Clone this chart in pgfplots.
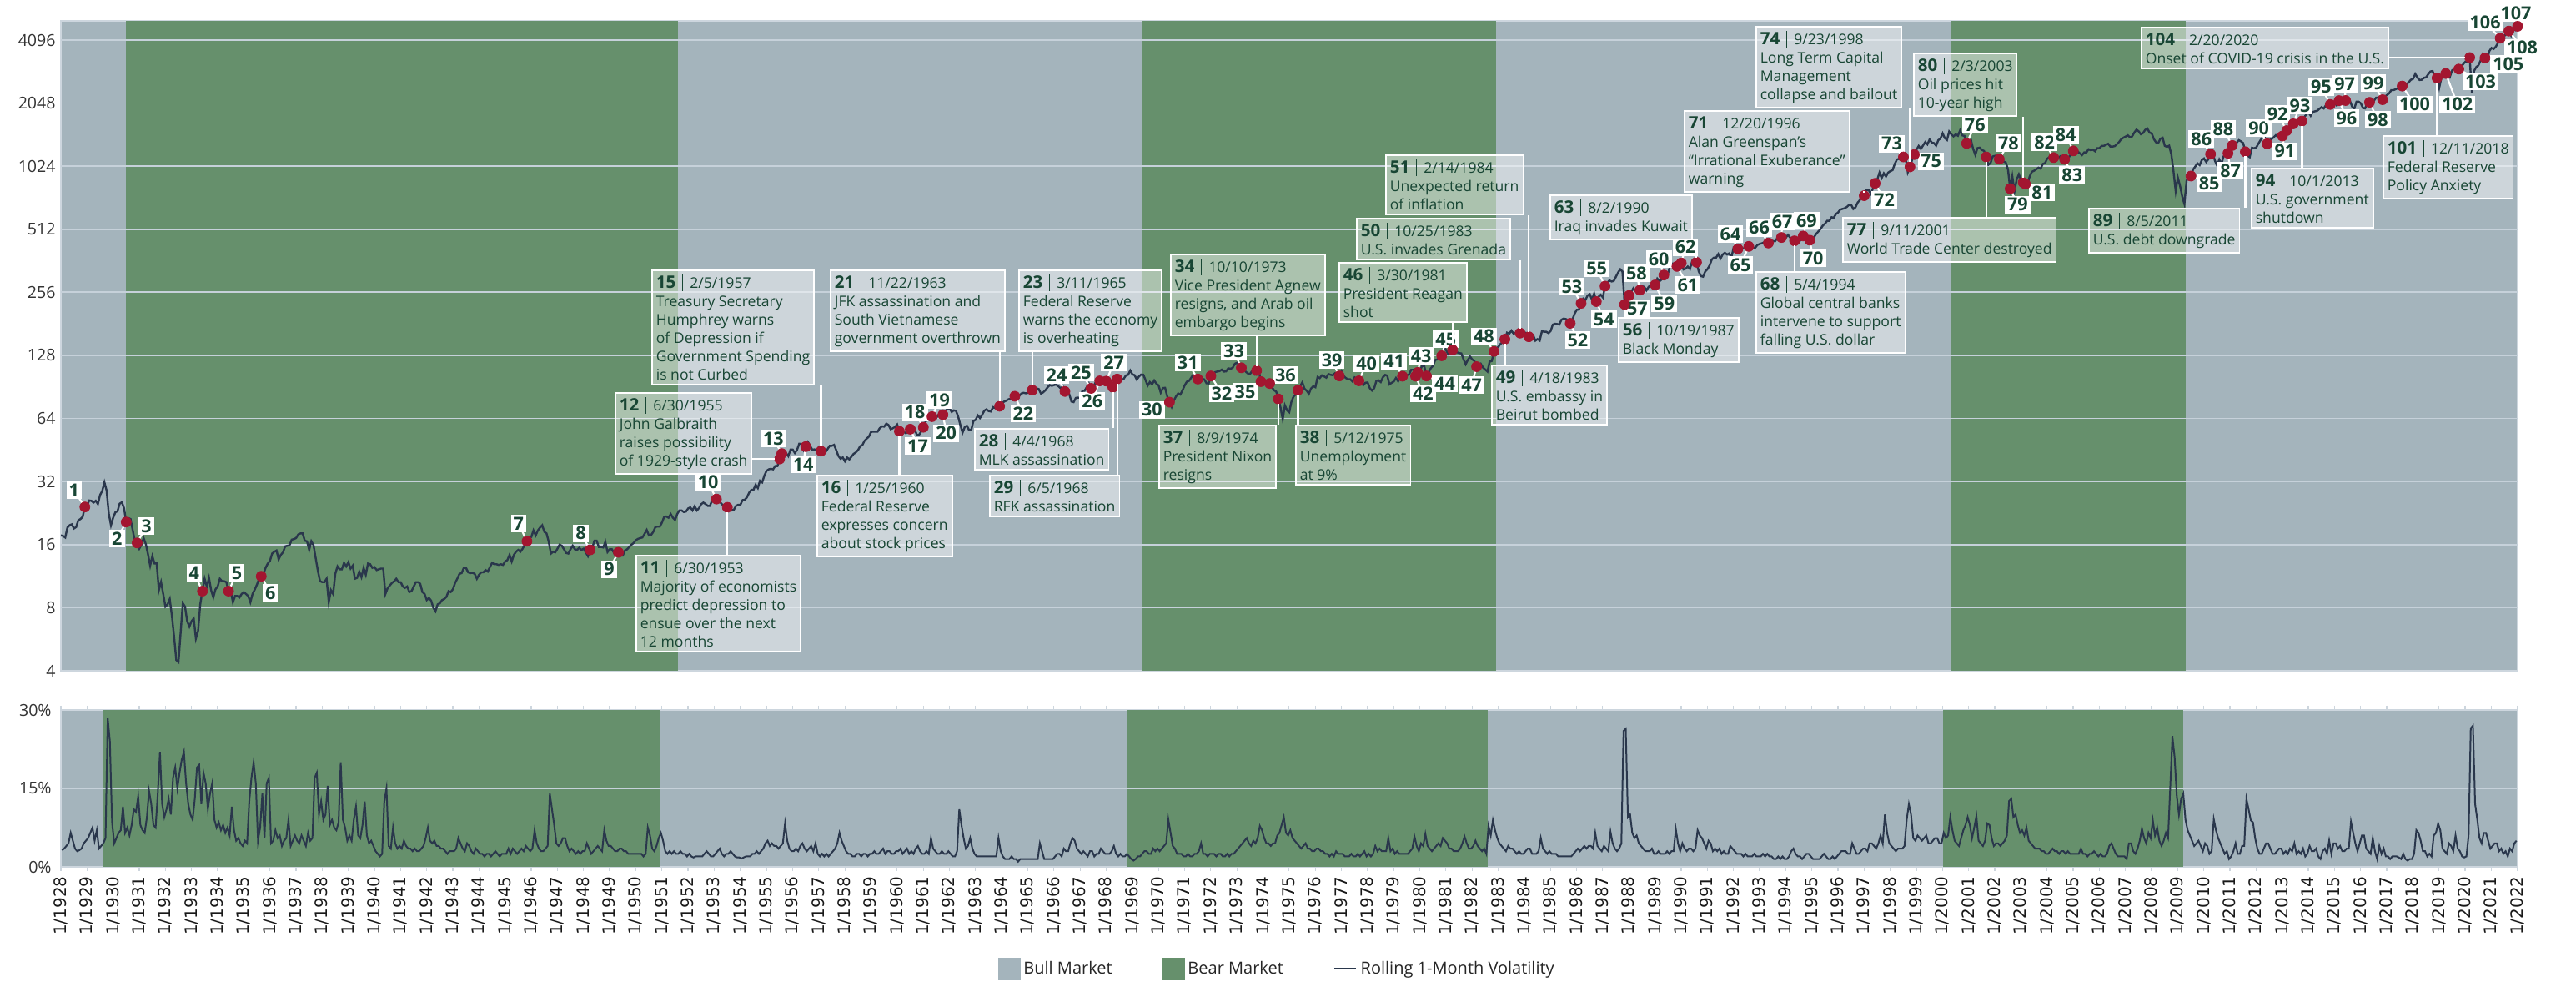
\documentclass[border=0pt]{standalone}
\usepackage{fontspec}
\setmainfont{Open Sans}
\newfontfamily\tickfont{DejaVu Sans}
\usepackage{pgfplots}
\pgfplotsset{compat=1.18}
\definecolor{bull}{RGB}{164,180,188}
\definecolor{bear}{RGB}{102,144,108}
\definecolor{gridc}{RGB}{198,209,218}
\definecolor{navy}{RGB}{42,55,76}
\definecolor{dotc}{RGB}{163,22,48}
\definecolor{tgreen}{RGB}{24,70,52}
\definecolor{framec}{RGB}{205,214,222}
\tikzset{
 numlab/.style={fill=white, inner xsep=1.5pt, inner ysep=1.3pt, text=tgreen, font=\fontsize{10.8}{10.8}\selectfont\bfseries},
 annbox/.style={draw=white, line width=0.8pt, fill=white, fill opacity=0.45, text opacity=1, text=tgreen, anchor=north west, align=left, inner xsep=2.5pt, inner ysep=2.5pt, font=\fontsize{8.8}{11}\selectfont},
 ptr/.style={white, line width=1.1pt}
}
\newcommand{\hd}[2]{{\fontsize{10.3}{11}\selectfont\bfseries #1}\hspace{4pt}\raisebox{-1.5pt}{\rule{0.5pt}{10pt}}\hspace{4pt}#2}
\newcommand{\evlist}{%
\ev{1}{1928.917}{24.2}{-6.5}{10}%
\ev{2}{1930.5}{20.5}{-5.5}{-10}%
\ev{3}{1930.917}{16.3}{5.5}{10}%
\ev{4}{1933.417}{9.6}{-5}{11}%
\ev{5}{1934.417}{9.6}{5}{11}%
\ev{6}{1935.667}{11.3}{5.5}{-10}%
\ev{7}{1945.833}{16.6}{-5}{10.5}%
\ev{8}{1948.25}{15.1}{-5.5}{10}%
\ev{9}{1949.333}{14.7}{-5.5}{-10}%
\ev{10}{1953.083}{26.4}{-5}{10}%
\ev{13}{1955.583}{43.5}{-5}{9}%
\ev{14}{1956.5}{46.97}{-1.5}{-10.5}%
\ev{17}{1960.5}{56.9}{4.5}{-10}%
\ev{18}{1961.0}{58.1}{-5}{9}%
\ev{19}{1961.333}{65.3}{4.5}{10}%
\ev{20}{1961.75}{66.7}{2}{-11}%
\ev{22}{1964.5}{81.7}{5}{-10.5}%
\ev{24}{1966.417}{86.1}{-5}{10}%
\ev{25}{1967.417}{89.1}{-6}{9.5}%
\ev{26}{1967.75}{96.7}{-4.5}{-12}%
\ev{27}{1968.0}{96.5}{4.5}{11}%
\ev{30}{1970.417}{76.55}{-10.5}{-4.5}%
\ev{31}{1971.5}{98.7}{-6}{10}%
\ev{32}{1972.0}{102.1}{6.5}{-10.5}%
\ev{33}{1973.167}{111.7}{-4.5}{10}%
\ev{35}{1973.917}{95.96}{-9.5}{-6}%
\ev{36}{1974.25}{93.98}{9.5}{5}%
\ev{39}{1976.917}{102.1}{-4.5}{9.5}%
\ev{40}{1977.667}{96.8}{4.5}{10.5}%
\ev{41}{1979.333}{101.8}{-5}{9}%
\ev{42}{1979.833}{101.8}{4.5}{-10.5}%
\ev{43}{1979.917}{106.2}{2}{10}%
\ev{44}{1980.25}{102.1}{11}{-4.5}%
\ev{45}{1980.833}{127.5}{2.5}{10}%
\ev{47}{1982.167}{113.1}{-3}{-11}%
\ev{48}{1982.833}{133.7}{-6}{9}%
\ev{52}{1985.75}{182.1}{4.5}{-10}%
\ev{53}{1986.167}{226.9}{-5.5}{10}%
\ev{54}{1986.75}{231.3}{4.5}{-10.5}%
\ev{55}{1987.083}{274.1}{-5}{10.5}%
\ev{57}{1988.0}{247.1}{5}{-8}%
\ev{58}{1988.417}{262.2}{-2}{10}%
\ev{59}{1989.0}{277.7}{5.5}{-11}%
\ev{60}{1989.333}{309.6}{-3}{9.5}%
\ev{61}{1989.833}{340.4}{6.5}{-11}%
\ev{62}{1990.0}{353.4}{2.5}{9.5}%
\ev{64}{1992.167}{412.7}{-4.5}{9}%
\ev{65}{1992.583}{424.2}{-5}{-11}%
\ev{66}{1993.333}{440.2}{-5.5}{9}%
\ev{67}{1993.833}{467.8}{0.5}{9.5}%
\ev{69}{1994.667}{475.5}{2}{9}%
\ev{70}{1994.917}{454.0}{2}{-11}%
\ev{72}{1997.417}{848.3}{5.5}{-10}%
\ev{73}{1998.5}{1133.8}{-7}{8}%
\ev{75}{1998.917}{1163.6}{10}{-4}%
\ev{76}{2000.917}{1315.2}{5}{11}%
\ev{78}{2002.167}{1106.7}{5.5}{9.5}%
\ev{79}{2002.583}{800}{4.5}{-9.5}%
\ev{81}{2003.167}{841.2}{10}{-5}%
\ev{82}{2004.25}{1126.2}{-5.5}{9}%
\ev{83}{2004.667}{1104.2}{4.5}{-9.5}%
\ev{84}{2005.0}{1211.9}{-4.5}{9.5}%
\ev{85}{2009.5}{919.3}{11}{-4.5}%
\ev{86}{2010.25}{1169.4}{-5.5}{9}%
\ev{87}{2010.917}{1180.55}{1.5}{-10.5}%
\ev{88}{2011.083}{1286.1}{-5.5}{10}%
\ev{90}{2012.417}{1310.3}{-5}{9.5}%
\ev{91}{2013.0}{1426.2}{1.5}{-9}%
\ev{92}{2013.167}{1514.7}{-5.5}{10}%
\ev{93}{2013.417}{1630.7}{4}{11}%
\ev{95}{2014.833}{2018.05}{-5.5}{10.5}%
\ev{96}{2015.167}{2104.5}{4.5}{-10.5}%
\ev{97}{2015.417}{2107.4}{-0.5}{10}%
\ev{98}{2016.333}{2065.3}{5}{-10.5}%
\ev{99}{2016.833}{2126.15}{-5.5}{10}%
\ev{100}{2017.583}{2470.3}{7.5}{-11}%
\ev{102}{2019.25}{2834.4}{7}{-18.5}%
\ev{103}{2019.75}{2976.7}{13}{-7.5}%
\ev{105}{2020.75}{3363.0}{14}{-3.5}%
\ev{106}{2021.333}{4181.2}{-9}{9.5}%
\ev{107}{2022.0}{4766.2}{-1}{8}%
\ev{108}{2021.667}{4522.7}{8}{-10}%
}
\begin{document}
\begin{tikzpicture}
\path[use as bounding box] (0,0) rectangle (1544.5pt,588.5pt);
% ================= TOP PANEL =================
\begin{axis}[at={(36.5pt,186.5pt)}, anchor=south west, scale only axis,
 width=1473pt, height=389.5pt, xmin=1928, xmax=2022,
 ymode=log, log basis y=2, ymin=4, ymax=5058,
 xtick=\empty,
 ytick={4,8,16,32,64,128,256,512,1024,2048,4096},
 yticklabels={4,8,16,32,64,128,256,512,1024,2048,4096},
 yticklabel style={font=\fontsize{9.8}{10}\selectfont, text=black!80, inner sep=0pt, xshift=-3pt},
 ytick style={draw=none}, major tick length=0pt,
 axis line style={framec, line width=1pt},
 axis background/.style={fill=bull}, clip=false]
\addplot[draw=none, fill=bear, forget plot] coordinates {(1930.5,4) (1930.5,5058) (1951.6,5058) (1951.6,4)};
\addplot[draw=none, fill=bear, forget plot] coordinates {(1969.4,4) (1969.4,5058) (1982.9,5058) (1982.9,4)};
\addplot[draw=none, fill=bear, forget plot] coordinates {(2000.3,4) (2000.3,5058) (2009.3,5058) (2009.3,4)};
\pgfplotsinvokeforeach{8,16,32,64,128,256,512,1024,2048,4096}{
 \addplot[gridc, line width=0.9pt, forget plot] coordinates {(1928,#1) (2022,#1)};
}
\addplot[navy, line width=1.2pt, forget plot] table[header=false, row sep=\\, x expr={1928+\coordindex/12}, y index=0] {
17.7\\
17.6\\17.3\\19.3\\19.8\\20.0\\19.1\\19.4\\20.9\\21.2\\21.7\\24.2\\24.4\\
26.0\\25.9\\25.4\\25.9\\25.0\\27.6\\28.9\\31.7\\29.0\\22.5\\19.8\\21.5\\
22.8\\23.1\\25.1\\25.5\\23.9\\20.5\\21.4\\21.2\\18.7\\16.6\\16.3\\15.3\\
15.98\\17.2\\16.1\\14.4\\12.7\\14.1\\13.0\\13.0\\9.7\\10.6\\9.3\\8.1\\
8.3\\8.8\\7.3\\5.8\\4.5\\4.4\\6.1\\8.4\\8.1\\6.9\\6.5\\6.9\\
7.1\\5.7\\6.2\\8.3\\9.6\\11.0\\10.1\\11.1\\9.7\\8.96\\9.8\\10.1\\
11.0\\10.7\\10.7\\10.6\\9.6\\9.6\\8.5\\9.1\\9.1\\8.95\\9.3\\9.5\\
9.3\\9.1\\8.5\\9.3\\9.75\\10.3\\11.0\\11.3\\11.6\\12.4\\13.0\\13.4\\
14.5\\14.8\\15.0\\13.6\\14.3\\14.7\\15.7\\15.8\\15.9\\16.9\\17.0\\17.2\\
17.9\\18.1\\18.1\\16.7\\16.6\\15.1\\16.6\\15.9\\13.8\\12.0\\10.7\\10.6\\
10.6\\11.0\\8.5\\9.7\\9.3\\11.6\\12.6\\12.2\\12.2\\13.1\\12.6\\13.2\\
12.3\\12.7\\11.0\\11.1\\11.9\\11.2\\12.4\\11.5\\13.0\\12.9\\12.4\\12.5\\
12.1\\12.2\\12.3\\12.3\\9.3\\9.9\\10.2\\10.5\\10.7\\11.0\\10.6\\10.6\\
10.1\\9.95\\10.1\\9.5\\9.6\\10.1\\10.6\\10.6\\10.4\\9.5\\9.3\\8.7\\
8.9\\8.65\\8.0\\7.7\\8.3\\8.4\\8.7\\8.8\\9.0\\9.6\\9.5\\9.8\\
10.5\\11.0\\11.6\\11.7\\12.4\\12.4\\11.8\\11.7\\11.75\\11.6\\11.0\\11.5\\
11.8\\11.8\\12.1\\11.9\\12.5\\13.1\\12.9\\12.9\\12.8\\12.9\\12.8\\13.3\\
13.5\\14.3\\13.3\\14.3\\14.8\\15.1\\14.8\\15.3\\16.0\\16.6\\17.3\\17.4\\
18.7\\17.7\\18.7\\19.3\\19.8\\18.4\\18.1\\16.5\\14.5\\14.8\\14.7\\15.3\\
16.0\\15.8\\15.2\\14.6\\14.5\\15.2\\15.8\\15.2\\15.1\\15.45\\15.1\\15.3\\
14.7\\14.1\\15.1\\15.5\\16.7\\16.7\\15.6\\15.6\\15.5\\16.5\\14.75\\15.2\\
15.2\\14.6\\15.1\\14.7\\14.2\\14.2\\15.0\\15.2\\15.6\\16.0\\16.3\\16.8\\
17.05\\17.2\\17.3\\18.0\\18.8\\17.7\\17.8\\18.4\\19.45\\19.5\\19.5\\20.4\\
21.7\\21.8\\21.5\\22.4\\21.5\\21.0\\22.4\\23.3\\23.3\\22.9\\23.0\\23.8\\
24.1\\23.3\\24.4\\23.3\\23.9\\24.96\\25.4\\25.0\\24.5\\24.5\\26.0\\26.6\\
26.4\\25.9\\25.3\\24.6\\24.5\\24.1\\24.75\\23.3\\23.5\\24.5\\24.8\\24.8\\
26.1\\26.2\\26.9\\28.3\\29.2\\29.2\\30.9\\29.8\\32.3\\31.7\\34.2\\35.98\\
36.6\\36.8\\36.6\\37.96\\37.9\\41.0\\43.5\\43.2\\43.7\\42.3\\45.5\\45.5\\
43.8\\45.3\\48.5\\48.4\\45.2\\46.97\\49.4\\47.5\\45.35\\45.6\\45.1\\46.7\\
44.7\\43.3\\44.1\\45.7\\47.4\\47.4\\47.9\\45.2\\42.4\\41.1\\41.7\\40.0\\
41.7\\40.8\\42.1\\43.4\\44.1\\45.2\\47.2\\47.75\\50.1\\51.3\\52.5\\55.2\\
55.4\\55.4\\55.4\\57.6\\58.7\\58.5\\60.5\\59.6\\56.9\\57.5\\58.3\\59.9\\
55.6\\56.1\\55.3\\54.4\\55.8\\56.9\\55.5\\57.0\\53.5\\53.4\\55.5\\58.1\\
61.8\\63.4\\65.1\\65.3\\66.6\\64.6\\66.8\\68.1\\66.7\\68.6\\71.3\\71.55\\
68.8\\69.96\\69.55\\65.2\\59.6\\54.75\\58.2\\59.1\\56.3\\56.5\\62.3\\63.1\\
66.2\\64.3\\66.6\\69.8\\70.8\\69.4\\69.1\\72.5\\71.7\\74.0\\73.2\\75.0\\
77.0\\77.8\\78.98\\79.5\\80.4\\81.7\\83.2\\82.0\\84.2\\84.9\\84.4\\84.75\\
87.6\\87.4\\86.2\\89.1\\88.4\\84.1\\85.25\\87.2\\89.96\\92.4\\91.6\\92.4\\
92.9\\91.2\\89.2\\91.1\\86.1\\84.7\\83.6\\77.1\\76.6\\80.2\\80.45\\80.3\\
86.6\\86.8\\90.2\\94.0\\89.1\\90.6\\94.75\\93.6\\96.7\\93.9\\94.0\\96.5\\
92.2\\89.4\\90.2\\97.6\\98.7\\99.6\\97.7\\98.9\\102.7\\103.4\\108.4\\103.9\\
103.0\\98.1\\101.5\\103.7\\103.5\\97.7\\91.8\\95.5\\93.1\\97.2\\93.8\\92.1\\
85.0\\89.5\\89.6\\81.5\\76.55\\72.7\\78.05\\81.5\\84.3\\83.25\\87.2\\92.15\\
95.9\\96.75\\100.3\\103.95\\99.6\\98.7\\95.6\\99.0\\98.3\\94.2\\94.0\\102.1\\
103.9\\106.6\\107.2\\107.7\\109.5\\107.1\\107.4\\111.1\\110.55\\111.6\\116.7\\118.05\\
116.0\\111.7\\111.5\\106.97\\104.95\\104.3\\108.2\\104.25\\108.4\\108.3\\95.96\\97.55\\
96.6\\96.2\\93.98\\90.3\\87.3\\86.0\\79.3\\72.15\\63.5\\73.9\\69.97\\68.56\\
76.98\\81.6\\83.4\\87.3\\91.15\\95.2\\88.75\\86.9\\83.9\\89.0\\91.2\\90.2\\
100.9\\99.7\\102.8\\101.6\\100.2\\104.3\\103.4\\102.9\\105.2\\102.9\\102.1\\107.5\\
102.0\\99.8\\98.4\\98.4\\96.1\\100.5\\98.85\\96.8\\96.5\\92.3\\94.8\\95.1\\
89.25\\87.0\\89.2\\96.8\\97.3\\95.5\\100.7\\103.3\\102.5\\93.15\\94.7\\96.1\\
99.9\\96.3\\101.6\\101.8\\99.1\\102.9\\103.8\\109.3\\109.3\\101.8\\106.2\\107.9\\
114.2\\113.7\\102.1\\106.3\\111.2\\114.2\\121.7\\122.4\\125.5\\127.5\\140.5\\135.8\\
129.55\\131.3\\136.0\\132.8\\132.6\\131.2\\130.9\\122.8\\116.2\\121.9\\126.35\\122.55\\
120.4\\113.1\\111.96\\116.4\\111.9\\109.6\\107.1\\119.5\\120.4\\133.7\\138.5\\140.6\\
145.3\\148.1\\152.96\\164.4\\162.4\\168.1\\162.6\\164.4\\166.1\\163.55\\166.4\\164.9\\
163.4\\157.1\\159.2\\160.05\\150.55\\153.2\\150.7\\166.7\\166.1\\166.1\\163.6\\167.2\\
179.6\\181.2\\180.7\\179.8\\189.55\\191.85\\190.9\\188.6\\182.1\\189.8\\202.2\\211.3\\
211.8\\226.9\\238.9\\235.5\\247.35\\250.8\\236.1\\252.9\\231.3\\243.98\\249.2\\242.2\\
274.1\\284.2\\291.7\\288.4\\290.1\\304.0\\318.7\\329.8\\321.8\\224.0\\230.3\\247.1\\
257.1\\267.8\\258.9\\261.3\\262.2\\273.5\\272.0\\261.5\\271.9\\278.97\\273.7\\277.7\\
297.5\\288.9\\294.9\\309.6\\320.5\\317.98\\346.1\\351.45\\349.15\\340.4\\345.99\\353.4\\
329.1\\331.9\\339.9\\330.8\\361.2\\358.0\\356.15\\322.6\\306.05\\304.0\\322.2\\330.2\\
343.9\\367.1\\375.2\\375.3\\389.8\\371.2\\387.8\\395.4\\387.9\\392.5\\375.2\\417.1\\
408.8\\412.7\\403.7\\414.95\\415.35\\408.1\\424.2\\414.0\\417.8\\418.7\\431.35\\435.7\\
438.8\\443.4\\451.7\\440.2\\450.2\\450.5\\448.1\\463.6\\458.9\\467.8\\461.8\\466.45\\
481.6\\467.1\\445.8\\450.9\\456.5\\444.3\\458.3\\475.5\\462.7\\472.35\\454.0\\459.3\\
470.4\\487.4\\500.7\\514.7\\533.4\\544.75\\562.1\\561.9\\584.4\\581.5\\605.4\\615.9\\
636.0\\640.4\\645.5\\654.2\\669.1\\670.6\\639.95\\651.99\\687.3\\705.3\\757.0\\740.7\\
786.2\\790.8\\757.1\\801.3\\848.3\\885.1\\954.3\\899.5\\947.3\\914.6\\955.4\\970.4\\
980.3\\1049.3\\1101.75\\1111.75\\1090.8\\1133.8\\1120.7\\957.3\\1017.0\\1098.7\\1163.6\\1229.2\\
1279.6\\1238.3\\1286.4\\1335.2\\1301.8\\1372.7\\1328.7\\1320.4\\1282.7\\1362.9\\1388.9\\1469.25\\
1394.5\\1366.4\\1498.6\\1452.4\\1420.6\\1454.6\\1430.8\\1517.7\\1436.5\\1429.4\\1315.2\\1320.3\\
1366.0\\1239.9\\1160.3\\1249.5\\1255.8\\1224.4\\1211.2\\1133.6\\1040.9\\1059.8\\1139.45\\1148.1\\
1130.2\\1106.7\\1147.4\\1076.9\\1067.1\\989.8\\800.0\\916.1\\776.0\\885.8\\936.3\\879.8\\
855.7\\841.2\\848.2\\916.9\\963.6\\974.5\\990.3\\1008.0\\996.0\\1050.7\\1058.2\\1111.9\\
1131.1\\1144.9\\1126.2\\1107.3\\1120.7\\1140.8\\1101.7\\1104.2\\1114.6\\1130.2\\1173.8\\1211.9\\
1181.3\\1203.6\\1180.6\\1156.85\\1191.5\\1191.3\\1234.2\\1220.3\\1228.8\\1207.0\\1249.5\\1248.3\\
1280.1\\1280.7\\1294.9\\1310.6\\1270.1\\1270.2\\1276.7\\1303.8\\1335.85\\1377.9\\1400.6\\1418.3\\
1438.2\\1406.8\\1420.9\\1482.4\\1530.6\\1503.35\\1455.3\\1474.0\\1526.75\\1549.4\\1481.1\\1468.4\\
1378.55\\1330.6\\1322.7\\1385.6\\1400.4\\1280.0\\1267.4\\1282.8\\1166.4\\968.75\\780.0\\903.25\\
825.9\\735.1\\676.5\\872.8\\919.1\\919.3\\987.5\\1020.6\\1057.1\\1036.2\\1095.6\\1115.1\\
1073.9\\1104.5\\1169.4\\1186.7\\1089.4\\1030.7\\1101.6\\1049.3\\1141.2\\1183.3\\1180.55\\1257.6\\
1286.1\\1327.2\\1325.8\\1363.6\\1345.2\\1320.6\\1200.0\\1150.0\\1131.4\\1253.3\\1247.0\\1257.6\\
1312.4\\1365.7\\1408.5\\1397.9\\1310.3\\1362.2\\1379.3\\1406.6\\1440.7\\1412.2\\1416.2\\1426.2\\
1498.1\\1514.7\\1569.2\\1597.6\\1630.7\\1606.3\\1685.7\\1633.0\\1681.55\\1756.5\\1805.8\\1848.4\\
1782.6\\1859.45\\1872.3\\1883.95\\1923.6\\1960.2\\1930.7\\2003.4\\1972.3\\2018.05\\2067.6\\2058.9\\
1995.0\\2104.5\\2067.9\\2085.5\\2107.4\\2063.1\\2103.8\\1972.2\\1920.0\\2079.4\\2080.4\\2043.9\\
1940.2\\1932.2\\2059.7\\2065.3\\2096.95\\2098.9\\2173.6\\2170.95\\2168.3\\2126.15\\2199.0\\2238.8\\
2278.9\\2363.6\\2362.7\\2384.2\\2411.8\\2423.4\\2470.3\\2471.65\\2519.4\\2575.3\\2647.6\\2673.6\\
2823.8\\2713.8\\2640.9\\2648.05\\2705.3\\2718.4\\2816.3\\2901.5\\2913.98\\2711.7\\2700.0\\2420.0\\
2704.1\\2784.5\\2834.4\\2945.8\\2752.1\\2941.8\\2980.4\\2926.5\\2976.7\\3037.6\\3141.0\\3230.8\\
3225.5\\3380.0\\2300.0\\2912.4\\3044.3\\3100.3\\3271.1\\3500.3\\3363.0\\3269.96\\3621.6\\3756.1\\
3714.2\\3811.15\\3972.9\\4181.2\\4204.1\\4297.5\\4395.3\\4522.7\\4307.5\\4605.4\\4567.0\\4766.2\\
};
% annotated event coordinates
\coordinate (e11) at (axis cs:1953.5,24.1);
\coordinate (e12) at (axis cs:1955.5,41.0);
\coordinate (e15) at (axis cs:1957.083,44.7);
\coordinate (e16) at (axis cs:1960.083,55.6);
\coordinate (e21) at (axis cs:1963.917,73.2);
\coordinate (e23) at (axis cs:1965.167,87.4);
\coordinate (e28) at (axis cs:1968.25,90.2);
\coordinate (e29) at (axis cs:1968.417,98.7);
\coordinate (e34) at (axis cs:1973.75,108.4);
\coordinate (e37) at (axis cs:1974.583,79.3);
\coordinate (e38) at (axis cs:1975.333,87.3);
\coordinate (e46) at (axis cs:1981.25,136.0);
\coordinate (e49) at (axis cs:1983.25,152.96);
\coordinate (e50) at (axis cs:1983.833,163.55);
\coordinate (e51) at (axis cs:1984.167,157.1);
\coordinate (e56) at (axis cs:1987.833,224.0);
\coordinate (e63) at (axis cs:1990.583,356.15);
\coordinate (e68) at (axis cs:1994.333,450.9);
\coordinate (e71) at (axis cs:1997.0,740.7);
\coordinate (e74) at (axis cs:1998.75,1017.0);
\coordinate (e77) at (axis cs:2001.667,1133.6);
\coordinate (e80) at (axis cs:2003.083,855.7);
\coordinate (e89) at (axis cs:2011.583,1200);
\coordinate (e94) at (axis cs:2013.75,1681.55);
\coordinate (e101) at (axis cs:2018.917,2700);
\coordinate (e104) at (axis cs:2020.167,3380);
% pointer lines of numbered labels
\def\ev#1#2#3#4#5{\draw[ptr] (axis cs:#2,#3) -- ++(#4pt,#5pt);}
\evlist
% event dots
\addplot[only marks, mark=*, mark size=3pt, dotc, forget plot] coordinates {
(1928.917,24.2) (1930.5,20.5) (1930.917,16.3) (1933.417,9.6) (1934.417,9.6) (1935.667,11.3)
(1945.833,16.6) (1948.25,15.1) (1949.333,14.7) (1953.083,26.4) (1953.5,24.1) (1955.5,41.0)
(1955.583,43.5) (1956.5,46.97) (1957.083,44.7) (1960.083,55.6) (1960.5,56.9) (1961.0,58.1)
(1961.333,65.3) (1961.75,66.7) (1963.917,73.2) (1964.5,81.7) (1965.167,87.4) (1966.417,86.1)
(1967.417,89.1) (1967.75,96.7) (1968.0,96.5) (1968.25,90.2) (1968.417,98.7) (1970.417,76.55)
(1971.5,98.7) (1972.0,102.1) (1973.167,111.7) (1973.75,108.4) (1973.917,95.96) (1974.25,93.98)
(1974.583,79.3) (1975.333,87.3) (1976.917,102.1) (1977.667,96.8) (1979.333,101.8) (1979.833,101.8)
(1979.917,106.2) (1980.25,102.1) (1980.833,127.5) (1981.25,136.0) (1982.167,113.1) (1982.833,133.7)
(1983.25,152.96) (1983.833,163.55) (1984.167,157.1) (1985.75,182.1) (1986.167,226.9) (1986.75,231.3)
(1987.083,274.1) (1987.833,224.0) (1988.0,247.1) (1988.417,262.2) (1989.0,277.7) (1989.333,309.6)
(1989.833,340.4) (1990.0,353.4) (1990.583,356.15) (1992.167,412.7) (1992.583,424.2) (1993.333,440.2)
(1993.833,467.8) (1994.333,450.9) (1994.667,475.5) (1994.917,454.0) (1997.0,740.7) (1997.417,848.3)
(1998.5,1133.8) (1998.75,1017.0) (1998.917,1163.6) (2000.917,1315.2) (2001.667,1133.6) (2002.167,1106.7)
(2002.583,800) (2003.083,855.7) (2003.167,841.2) (2004.25,1126.2) (2004.667,1104.2) (2005.0,1211.9)
(2009.5,919.3) (2010.25,1169.4) (2010.917,1180.55) (2011.083,1286.1) (2011.583,1200) (2012.417,1310.3)
(2013.0,1426.2) (2013.167,1514.7) (2013.417,1630.7) (2013.75,1681.55) (2014.833,2018.05) (2015.167,2104.5)
(2015.417,2107.4) (2016.333,2065.3) (2016.833,2126.15) (2017.583,2470.3) (2018.917,2700) (2019.25,2834.4)
(2019.75,2976.7) (2020.167,3380) (2020.75,3363.0) (2021.333,4181.2) (2021.667,4522.7) (2022.0,4766.2)
};
% number labels
\def\ev#1#2#3#4#5{\node[numlab] at ([shift={(#4pt,#5pt)}]axis cs:#2,#3) {#1};}
\evlist
\end{axis}
% ================= BOTTOM PANEL =================
\begin{axis}[at={(36.5pt,69pt)}, anchor=south west, scale only axis,
 width=1473pt, height=94pt, xmin=1928, xmax=2022, ymin=0, ymax=30,
 ytick={0,15,30}, yticklabels={0\%,15\%,30\%},
 yticklabel style={font=\fontsize{9.8}{10}\selectfont, text=black!80, inner sep=0pt, xshift=-3pt},
 ytick style={draw=none},
 xtick={1928,...,2022},
 xticklabel={1/\pgfmathparse{int(round(\tick))}\pgfmathresult},
 xticklabel style={font=\tickfont\fontsize{10}{10}\selectfont, text=black!90, rotate=90, anchor=east, inner sep=3pt},
 tick align=outside, major tick length=2.5pt, xtick style={draw=framec, line width=0.6pt},
 axis line style={framec, line width=1pt},
 axis background/.style={fill=bull},
 legend style={at={(0.4953,-0.649)}, anchor=center, draw=none, fill=none, font=\fontsize{10}{12}\selectfont, text=black!85, /tikz/every even column/.append style={column sep=28pt}},
 legend columns=3, legend cell align=left]
\addlegendimage{legend image code/.code={\fill[bull] (0pt,-6.5pt) rectangle (13pt,6.5pt);}}
\addlegendimage{legend image code/.code={\fill[bear] (0pt,-6.5pt) rectangle (13pt,6.5pt);}}
\addlegendimage{legend image code/.code={\draw[navy, line width=1.4pt] (0pt,0pt) -- (13pt,0pt);}}
\legend{Bull Market, Bear Market, Rolling 1-Month Volatility}
\addplot[draw=none, fill=bear, forget plot] coordinates {(1929.6,0) (1929.6,30) (1950.9,30) (1950.9,0)};
\addplot[draw=none, fill=bear, forget plot] coordinates {(1968.8,0) (1968.8,30) (1982.6,30) (1982.6,0)};
\addplot[draw=none, fill=bear, forget plot] coordinates {(2000.0,0) (2000.0,30) (2009.2,30) (2009.2,0)};
\addplot[gridc, line width=0.9pt, forget plot] coordinates {(1928,15) (2022,15)};
\addplot[navy, line width=1pt, forget plot] table[header=false, row sep=\\, x expr={1928+(\coordindex+0.5)/12}, y index=0] {
3.2\\3.5\\4.0\\4.5\\6.5\\5.0\\3.5\\3.0\\3.2\\3.5\\4.5\\5.0\\
5.5\\6.5\\7.5\\5.0\\7.0\\3.5\\4.0\\4.5\\5.5\\28.5\\24.0\\8.5\\
4.5\\5.5\\6.5\\7.0\\11.5\\6.5\\7.5\\6.0\\8.0\\11.0\\10.5\\13.5\\
8.0\\7.0\\6.5\\9.5\\14.5\\12.0\\8.0\\7.5\\14.0\\22.0\\12.0\\9.5\\
11.0\\13.0\\10.0\\17.0\\19.0\\15.0\\18.0\\20.5\\22.0\\16.0\\12.0\\10.0\\
9.0\\13.0\\19.0\\19.5\\12.0\\18.0\\16.0\\11.0\\14.0\\16.0\\9.0\\7.5\\
8.5\\7.0\\8.0\\6.5\\7.5\\6.0\\11.5\\7.0\\5.0\\5.5\\4.5\\4.0\\
5.0\\4.5\\12.5\\17.0\\20.0\\16.0\\5.0\\7.5\\14.0\\5.5\\16.0\\17.0\\
4.5\\5.0\\7.0\\5.5\\6.0\\4.0\\5.0\\5.5\\9.0\\4.0\\5.0\\6.0\\
5.0\\4.5\\6.0\\5.0\\4.0\\6.5\\5.0\\5.5\\17.0\\18.0\\10.0\\12.5\\
9.0\\10.0\\15.5\\8.0\\9.0\\7.5\\7.0\\8.5\\20.0\\9.0\\7.5\\5.0\\
6.0\\5.0\\9.0\\11.5\\6.0\\5.5\\8.0\\12.5\\6.0\\4.5\\5.0\\4.0\\
3.0\\2.5\\2.0\\2.5\\12.5\\15.0\\4.0\\3.5\\7.5\\4.5\\3.5\\4.0\\
3.5\\5.0\\4.0\\3.5\\3.5\\3.0\\3.5\\3.0\\3.0\\3.5\\4.0\\5.5\\
7.5\\5.0\\4.5\\5.0\\4.0\\4.0\\3.5\\3.5\\3.0\\2.5\\3.0\\3.0\\
3.0\\3.5\\5.5\\4.5\\3.5\\3.0\\4.5\\4.0\\3.0\\2.5\\3.5\\3.0\\
2.5\\2.5\\2.0\\2.5\\2.5\\2.0\\2.5\\3.0\\2.5\\2.0\\2.5\\2.5\\
2.5\\3.5\\2.5\\3.5\\3.0\\2.5\\3.0\\3.5\\3.0\\4.0\\3.5\\3.0\\
3.5\\7.0\\4.5\\3.5\\3.0\\3.0\\3.5\\4.0\\14.0\\11.0\\8.0\\4.5\\
4.0\\4.5\\5.5\\5.5\\4.0\\3.0\\3.5\\3.0\\2.5\\3.0\\2.5\\3.0\\
3.0\\4.5\\3.5\\2.5\\3.0\\3.5\\4.0\\3.5\\3.0\\7.0\\5.0\\4.0\\
4.0\\3.5\\3.0\\3.0\\3.5\\3.5\\3.0\\3.0\\2.5\\2.5\\2.5\\2.5\\
2.5\\2.5\\2.5\\2.0\\2.5\\7.5\\6.0\\3.5\\3.0\\4.0\\5.5\\6.5\\
5.0\\3.0\\2.5\\3.0\\2.5\\3.0\\2.5\\2.5\\3.0\\2.5\\2.5\\2.0\\
2.5\\2.0\\1.8\\2.0\\2.0\\2.0\\2.0\\2.5\\3.0\\2.5\\2.0\\2.0\\
2.5\\3.0\\3.5\\2.5\\2.0\\2.5\\2.5\\3.0\\2.5\\2.0\\1.8\\1.8\\
1.6\\1.8\\2.0\\2.0\\2.0\\2.5\\2.5\\3.0\\2.5\\3.0\\3.5\\4.5\\
5.0\\4.0\\4.5\\4.0\\4.0\\3.5\\4.0\\4.5\\8.3\\5.0\\3.5\\3.0\\
3.0\\3.5\\3.0\\4.0\\4.5\\3.5\\3.0\\3.5\\4.0\\3.0\\4.5\\2.5\\
2.0\\2.5\\2.0\\2.5\\2.0\\2.5\\3.0\\3.5\\4.5\\6.5\\5.0\\4.0\\
3.0\\2.5\\2.5\\2.0\\2.0\\2.5\\2.5\\2.0\\2.5\\2.5\\2.0\\2.5\\
2.5\\3.0\\2.5\\2.5\\3.0\\3.5\\2.5\\3.0\\3.0\\2.5\\2.5\\3.0\\
3.0\\3.5\\2.5\\3.0\\3.5\\2.5\\3.0\\2.5\\3.5\\4.0\\3.0\\2.5\\
2.5\\3.0\\2.5\\5.5\\3.5\\3.0\\2.5\\2.5\\3.0\\2.5\\2.5\\3.0\\
2.5\\2.0\\2.0\\3.0\\11.0\\8.0\\5.5\\3.5\\4.0\\5.5\\3.5\\2.5\\
2.0\\2.0\\2.0\\2.0\\2.0\\2.0\\2.0\\2.0\\2.0\\2.0\\5.5\\3.0\\
2.0\\1.5\\1.5\\1.5\\2.0\\1.5\\1.5\\1.0\\1.5\\1.5\\1.5\\1.5\\
1.5\\1.5\\1.5\\1.5\\1.5\\4.5\\3.0\\1.5\\1.5\\1.5\\1.5\\1.5\\
2.0\\2.5\\2.5\\2.0\\3.5\\3.0\\3.0\\4.5\\5.5\\5.0\\3.5\\3.0\\
2.5\\3.0\\2.5\\2.0\\3.0\\3.0\\2.0\\2.5\\2.5\\3.5\\3.0\\2.5\\
2.5\\2.5\\3.0\\4.0\\2.5\\2.0\\2.5\\2.0\\2.0\\2.5\\2.0\\1.5\\
1.2\\1.5\\2.0\\2.0\\2.5\\3.0\\3.0\\2.5\\2.5\\3.5\\3.0\\3.5\\
3.0\\3.5\\4.0\\4.5\\9.0\\6.5\\4.0\\3.5\\2.5\\2.5\\2.5\\2.0\\
2.0\\2.5\\2.0\\2.0\\2.5\\2.5\\3.0\\4.5\\2.5\\2.5\\2.0\\2.5\\
2.5\\2.5\\2.0\\2.5\\2.5\\2.0\\2.0\\2.5\\2.0\\2.5\\2.5\\3.0\\
3.5\\4.0\\4.5\\5.0\\5.5\\4.5\\4.0\\5.0\\4.5\\5.5\\7.8\\7.0\\
5.5\\4.5\\4.5\\4.0\\4.5\\4.5\\6.0\\6.5\\8.0\\9.5\\6.5\\6.0\\
7.0\\5.5\\5.0\\4.5\\4.0\\3.5\\4.0\\4.5\\3.5\\3.5\\3.0\\3.0\\
3.5\\3.5\\3.0\\3.0\\2.5\\2.5\\2.0\\2.5\\2.0\\3.0\\2.5\\2.5\\
2.5\\2.0\\2.0\\2.0\\2.5\\2.0\\2.0\\2.5\\2.0\\2.5\\3.0\\2.0\\
2.5\\2.0\\2.5\\4.0\\3.0\\3.5\\3.0\\3.0\\3.0\\5.5\\3.0\\3.5\\
2.5\\3.0\\2.5\\2.5\\2.5\\2.5\\2.5\\3.0\\3.5\\5.8\\4.0\\3.0\\
4.5\\4.0\\6.3\\4.0\\3.5\\3.0\\3.5\\4.0\\4.5\\4.0\\5.5\\5.0\\
4.5\\3.5\\3.5\\3.0\\3.0\\3.0\\3.5\\4.5\\5.8\\4.5\\3.5\\3.5\\
4.0\\5.0\\4.0\\3.5\\3.0\\3.5\\2.5\\7.8\\6.0\\8.9\\7.0\\5.5\\
4.5\\4.0\\3.5\\3.0\\4.0\\3.5\\3.5\\3.0\\2.5\\3.0\\2.5\\2.5\\
3.0\\3.5\\3.5\\2.5\\2.5\\2.5\\3.0\\5.5\\3.5\\3.0\\2.5\\3.0\\
2.5\\2.5\\2.5\\2.0\\2.0\\2.0\\2.0\\2.0\\2.0\\2.0\\2.5\\3.0\\
3.5\\3.0\\3.5\\4.0\\3.5\\4.0\\4.0\\3.5\\6.5\\4.0\\3.5\\3.0\\
4.0\\3.5\\3.0\\6.7\\4.5\\3.5\\3.0\\3.5\\4.5\\26.0\\26.4\\9.5\\
10.0\\6.5\\5.5\\6.0\\4.5\\4.0\\3.5\\3.0\\3.0\\3.0\\3.5\\2.5\\
2.5\\3.0\\2.5\\2.5\\2.5\\3.0\\2.5\\3.0\\3.0\\7.2\\4.5\\3.0\\
4.5\\3.5\\3.0\\3.5\\3.5\\3.0\\3.5\\7.0\\6.0\\5.5\\4.5\\3.5\\
5.0\\4.5\\3.0\\3.5\\3.0\\3.5\\2.5\\3.0\\2.5\\2.5\\4.0\\3.5\\
3.0\\2.5\\2.5\\2.5\\2.0\\2.5\\2.0\\2.0\\2.0\\2.5\\2.0\\2.0\\
2.0\\2.5\\2.0\\2.5\\2.0\\2.0\\1.5\\1.5\\2.0\\1.5\\2.0\\1.5\\
1.5\\2.0\\3.0\\3.5\\2.5\\2.0\\2.0\\1.5\\2.0\\2.5\\2.5\\2.0\\
1.5\\1.5\\1.5\\1.5\\2.0\\2.5\\2.0\\1.5\\1.5\\2.0\\1.5\\2.0\\
2.5\\3.0\\3.0\\3.0\\2.5\\2.5\\4.5\\3.5\\2.5\\2.5\\3.0\\3.5\\
3.5\\3.0\\4.5\\4.5\\4.0\\3.5\\4.5\\6.0\\4.5\\10.0\\6.5\\4.5\\
4.0\\3.5\\3.0\\3.5\\3.5\\3.5\\4.0\\9.0\\12.0\\10.0\\5.5\\5.0\\
6.0\\5.5\\5.0\\5.5\\6.0\\4.5\\4.5\\5.0\\5.5\\5.5\\4.5\\4.5\\
6.5\\5.5\\6.0\\9.5\\7.0\\5.0\\4.5\\4.0\\5.5\\7.0\\8.0\\9.5\\
8.0\\5.5\\7.5\\9.7\\5.0\\4.5\\4.0\\5.0\\8.3\\8.0\\5.5\\4.0\\
4.5\\4.5\\4.0\\4.5\\5.0\\6.0\\12.6\\13.0\\9.5\\10.0\\8.0\\6.5\\
7.0\\6.0\\7.5\\5.0\\4.5\\4.0\\3.5\\3.5\\3.5\\3.0\\3.0\\2.5\\
2.5\\3.0\\3.5\\3.0\\3.0\\2.5\\3.0\\3.0\\2.5\\3.0\\2.5\\2.5\\
2.5\\2.5\\2.5\\3.5\\2.5\\2.5\\2.0\\2.5\\2.5\\3.0\\2.5\\2.0\\
2.5\\2.0\\2.0\\2.5\\4.0\\4.5\\3.5\\2.5\\2.0\\2.0\\2.0\\2.0\\
1.5\\4.5\\4.5\\3.0\\2.5\\3.5\\5.0\\7.3\\5.5\\4.5\\6.5\\5.5\\
8.9\\6.0\\7.5\\5.0\\4.0\\5.0\\6.5\\5.5\\15.2\\25.0\\21.0\\13.6\\
10.0\\13.0\\14.0\\9.0\\7.0\\6.0\\5.0\\4.0\\4.5\\5.0\\4.0\\3.0\\
4.5\\4.0\\2.5\\3.0\\9.1\\7.0\\5.5\\4.5\\3.5\\2.5\\3.0\\1.5\\
2.0\\3.0\\4.5\\2.5\\2.5\\4.0\\4.0\\13.0\\11.0\\8.9\\8.5\\5.5\\
3.5\\2.5\\2.5\\3.5\\4.5\\4.5\\3.5\\2.5\\2.5\\3.0\\3.5\\3.5\\
2.5\\3.0\\2.5\\3.5\\3.0\\4.5\\2.5\\3.0\\2.5\\3.5\\2.0\\2.5\\
4.0\\3.0\\3.0\\3.5\\2.0\\1.5\\3.0\\3.5\\2.5\\5.0\\2.5\\4.5\\
4.5\\3.5\\4.0\\3.0\\3.0\\3.5\\3.5\\8.6\\6.5\\4.5\\3.0\\4.5\\
6.0\\6.0\\3.5\\3.0\\2.5\\5.5\\3.0\\1.5\\4.0\\2.5\\3.5\\2.0\\
2.0\\1.5\\2.0\\2.0\\2.0\\1.8\\1.5\\2.5\\1.5\\1.2\\1.5\\1.5\\
2.5\\7.0\\6.5\\5.0\\3.0\\3.0\\2.0\\2.5\\2.0\\6.0\\6.5\\8.3\\
7.0\\3.5\\3.0\\2.5\\4.5\\4.0\\3.0\\6.0\\3.5\\3.0\\2.0\\1.8\\
2.0\\6.0\\26.5\\27.0\\12.0\\9.0\\5.5\\4.5\\6.5\\6.5\\5.0\\3.5\\
4.0\\4.5\\4.5\\3.0\\3.5\\2.5\\3.0\\2.0\\3.5\\3.0\\4.5\\5.0\\
};
\end{axis}
% ================= ANNOTATION BOXES =================
\node[annbox] (b11) at (381pt,256pt) {\hd{11}{6/30/1953}\\Majority of economists\\predict depression to\\ensue over the next\\12 months};
\node[annbox] (b12) at (368.5pt,353.5pt) {\hd{12}{6/30/1955}\\John Galbraith\\raises possibility\\of 1929-style crash};
\node[annbox] (b15) at (390.5pt,427pt) {\hd{15}{2/5/1957}\\Treasury Secretary\\Humphrey warns\\of Depression if\\Government Spending\\is not Curbed};
\node[annbox] (b16) at (489.5pt,304pt) {\hd{16}{1/25/1960}\\Federal Reserve\\expresses concern\\about stock prices};
\node[annbox] (b21) at (497.5pt,427pt) {\hd{21}{11/22/1963}\\JFK assassination and\\South Vietnamese\\government overthrown};
\node[annbox] (b23) at (610.5pt,427pt) {\hd{23}{3/11/1965}\\Federal Reserve\\warns the economy\\is overheating};
\node[annbox] (b28) at (584pt,332pt) {\hd{28}{4/4/1968}\\MLK assassination};
\node[annbox] (b29) at (593pt,304pt) {\hd{29}{6/5/1968}\\RFK assassination};
\node[annbox] (b34) at (701.5pt,436.5pt) {\hd{34}{10/10/1973}\\Vice President Agnew\\resigns, and Arab oil\\embargo begins};
\node[annbox] (b37) at (694.5pt,334pt) {\hd{37}{8/9/1974}\\President Nixon\\resigns};
\node[annbox] (b38) at (776.5pt,334pt) {\hd{38}{5/12/1975}\\Unemployment\\at 9\%};
\node[annbox] (b46) at (802.5pt,431.5pt) {\hd{46}{3/30/1981}\\President Reagan\\shot};
\node[annbox] (b49) at (894pt,370pt) {\hd{49}{4/18/1983}\\U.S. embassy in\\Beirut bombed};
\node[annbox] (b50) at (813pt,458pt) {\hd{50}{10/25/1983}\\U.S. invades Grenada};
\node[annbox] (b51) at (830.5pt,496pt) {\hd{51}{2/14/1984}\\Unexpected return\\of inflation};
\node[annbox] (b56) at (970pt,398.5pt) {\hd{56}{10/19/1987}\\Black Monday};
\node[annbox] (b63) at (929pt,472pt) {\hd{63}{8/2/1990}\\Iraq invades Kuwait};
\node[annbox] (b68) at (1052.5pt,426pt) {\hd{68}{5/4/1994}\\Global central banks\\intervene to support\\falling U.S. dollar};
\node[annbox] (b71) at (1009.5pt,522.5pt) {\hd{71}{12/20/1996}\\Alan Greenspan’s\\“Irrational Exuberance”\\warning};
\node[annbox] (b74) at (1052.5pt,573pt) {\hd{74}{9/23/1998}\\Long Term Capital\\Management\\collapse and bailout};
\node[annbox] (b77) at (1104.5pt,458.5pt) {\hd{77}{9/11/2001}\\World Trade Center destroyed};
\node[annbox] (b80) at (1147pt,557pt) {\hd{80}{2/3/2003}\\Oil prices hit\\10-year high};
\node[annbox] (b89) at (1252pt,464pt) {\hd{89}{8/5/2011}\\U.S. debt downgrade};
\node[annbox] (b94) at (1349.5pt,488pt) {\hd{94}{10/1/2013}\\U.S. government\\shutdown};
\node[annbox] (b101) at (1428.5pt,507.5pt) {\hd{101}{12/11/2018}\\Federal Reserve\\Policy Anxiety};
\node[annbox] (b104) at (1283.5pt,572.5pt) {\hd{104}{2/20/2020}\\Onset of COVID-19 crisis in the U.S.};
% pointers from boxes
\foreach \n in {15,21,23,34,46,50,51,63,71,74,80}{\draw[ptr, shorten >=2.8pt] (e\n |- b\n.south) -- (e\n);}
\foreach \n in {11,16,28,29,37,38,49,56,68,77,89,94,101}{\draw[ptr, shorten >=2.8pt] (e\n |- b\n.north) -- (e\n);}
\foreach \n in {12,104}{\draw[ptr, shorten >=2.8pt] (b\n.east |- e\n) -- (e\n);}
\end{tikzpicture}
\end{document}
